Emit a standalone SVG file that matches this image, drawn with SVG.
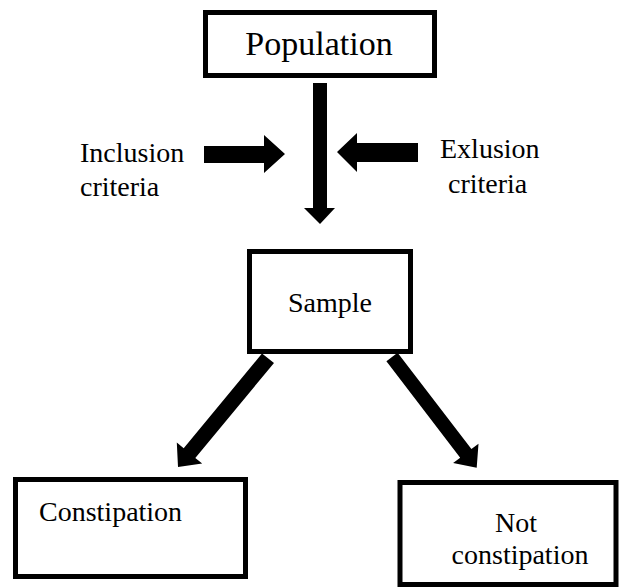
<svg xmlns="http://www.w3.org/2000/svg" width="621" height="588" viewBox="0 0 621 588">
<style>
.box{fill:#fff;stroke:#000;stroke-width:5}
.t{font-family:"Liberation Serif","Times New Roman",serif;font-size:28px;fill:#000}
.big{font-size:34px}
.arrow{fill:#000;stroke:none}
</style>
<rect width="621" height="588" fill="#fff"/>
<g id="connectors">
<polygon class="arrow" points="313,83 327,83 327,208 335,208 320,224 304,208 313,208"/>
<polygon class="arrow" points="204,146 264,146 264,135 285,154 264,173 264,163 204,163"/>
<polygon class="arrow" points="418,143 357,143 357,133 337,152 357,172 357,162 418,162"/>
<polygon class="arrow" points="262,353.5 183.7,448.3 176.8,442.6 178,467 202.2,463.6 195.3,457.9 274,363"/>
<polygon class="arrow" points="386.4,361.3 397.6,352.7 471.4,449.1 478.5,443.7 476.7,467.7 453.1,463.1 460.2,457.7"/>
</g>
<g id="population">
<rect class="box" x="205.5" y="12.5" width="229" height="63"/>
<text class="t big" x="319" y="55" text-anchor="middle">Population</text>
</g>
<g id="inclusion">
<text class="t" x="80" y="162">Inclusion</text>
<text class="t" x="80" y="196">criteria</text>
</g>
<g id="exclusion">
<text class="t" x="440" y="158">Exlusion</text>
<text class="t" x="448" y="193">criteria</text>
</g>
<g id="sample">
<rect class="box" x="249.5" y="251.5" width="161" height="100"/>
<text class="t" x="330" y="312" text-anchor="middle">Sample</text>
</g>
<g id="constipation">
<rect class="box" x="15.5" y="479.5" width="230" height="97"/>
<text class="t" x="39" y="521">Constipation</text>
</g>
<g id="not-constipation">
<rect class="box" x="400" y="482.5" width="216" height="102"/>
<text class="t" x="516" y="532" text-anchor="middle">Not</text>
<text class="t" x="520" y="564" text-anchor="middle">constipation</text>
</g>
</svg>
